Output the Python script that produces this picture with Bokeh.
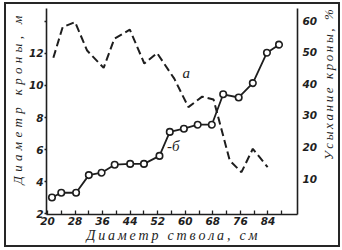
import math
from bokeh.plotting import figure
from bokeh.layouts import row
from bokeh.models import Range1d, LinearAxis, FixedTicker, Label
from bokeh.embed import file_html
from bokeh.resources import INLINE

# curve б: crown diameter, m (left axis)
diam_b = [21.3, 24.0, 28.3, 32.0, 35.7, 39.5, 44.0, 48.0, 52.5, 55.5, 59.6, 63.6, 67.7, 71.0, 75.5, 79.6, 83.7, 87.2]
crown_b = [3.0, 3.3, 3.3, 4.4, 4.55, 5.05, 5.1, 5.1, 5.6, 7.1, 7.3, 7.55, 7.55, 9.45, 9.25, 10.15, 12.05, 12.55]
# curve а: crown dieback, % (right axis)
diam_a = [21.7, 24.4, 28.0, 31.5, 36.3, 39.4, 43.9, 48.1, 51.8, 56.8, 60.9, 64.9, 68.2, 72.9, 76.3, 79.6, 83.9]
dry_a = [48.2, 57.9, 59.5, 50.5, 45.0, 54.2, 57.1, 46.4, 49.7, 41.6, 32.6, 35.9, 35.0, 15.7, 12.0, 19.4, 13.6]

x_ticks = [20, 28, 36, 44, 52, 60, 68, 76, 84]
x_minor = [24, 32, 40, 48, 56, 64, 72, 80, 88]
left_ticks = [2, 4, 6, 8, 10, 12, 14]
right_ticks = [10, 20, 30, 40, 50, 60]

x_title = "Диаметр ствола, см"
left_title = "Диаметр кроны, м"
right_title = "Усыхание кроны, %"

INK = "#1e1e1e"
TICK_FONT = "DejaVu Sans"
TITLE_FONT = "Liberation Serif"
SIDE_W = 18


def spaced(s, sep="\u2009"):
    return sep.join(list(s))


p = figure(width=332 - SIDE_W, height=241, output_backend="svg", toolbar_location=None,
           x_range=Range1d(19.71, 92.57), y_range=Range1d(1.94, 14.81),
           min_border_left=36, min_border_right=41 - SIDE_W, min_border_top=4, min_border_bottom=31)
p.outline_line_color = None
p.xgrid.visible = False
p.ygrid.visible = False
p.background_fill_color = "white"
p.border_fill_color = "white"

p.extra_y_ranges = {"right": Range1d(-1.39, 63.8)}


def style_axis(ax):
    ax.axis_line_color = INK
    ax.axis_line_width = 1.6
    ax.major_tick_line_color = INK
    ax.minor_tick_line_color = INK
    ax.major_tick_line_width = 1.3
    ax.minor_tick_line_width = 1.3
    ax.major_label_text_font = TICK_FONT
    ax.major_label_text_font_style = "bold italic"
    ax.major_label_text_font_size = "10.5px"
    ax.major_label_text_color = INK
    ax.axis_label_text_font = TITLE_FONT
    ax.axis_label_text_font_style = "italic"
    ax.axis_label_text_color = INK


# bottom axis
xa = p.xaxis[0]
style_axis(xa)
xa.ticker = FixedTicker(ticks=x_ticks, minor_ticks=x_minor)
xa.major_tick_in = 4
xa.major_tick_out = 0
xa.minor_tick_in = 4
xa.minor_tick_out = 0
xa.major_label_standoff = 2
xa.axis_label = spaced(x_title)
xa.axis_label_standoff = 0
xa.axis_label_text_font_size = "14px"

# left axis
ya = p.yaxis[0]
style_axis(ya)
ya.ticker = FixedTicker(ticks=left_ticks)
ya.major_label_overrides = {14: ""}
ya.major_tick_in = 0
ya.major_tick_out = 2
ya.minor_tick_line_color = None
ya.major_label_standoff = 1
ya.axis_label = "\u00a0" * 7 + spaced(left_title, "\u2004")
ya.axis_label_standoff = 1
ya.axis_label_text_font_size = "13px"

# right axis
ra = LinearAxis(y_range_name="right", ticker=FixedTicker(ticks=right_ticks))
style_axis(ra)
ra.major_tick_in = 0
ra.major_tick_out = 0
ra.minor_tick_line_color = None
ra.major_label_standoff = 5
p.add_layout(ra, "right")

# curves
p.line(diam_a, dry_a, y_range_name="right", line_color=INK, line_width=2, line_dash="8 4")
p.line(diam_b, crown_b, line_color=INK, line_width=1.8)
p.scatter(diam_b, crown_b, size=6.5, fill_color="white", line_color=INK, line_width=1.6)

# curve labels
p.add_layout(Label(x=60.3, y=10.8, text="а", text_font=TITLE_FONT, text_font_style="italic",
                   text_font_size="15px", text_color=INK, text_align="center", text_baseline="middle"))
p.add_layout(Label(x=56.5, y=6.25, text="-б", text_font=TITLE_FONT, text_font_style="italic",
                   text_font_size="15px", text_color=INK, text_align="center", text_baseline="middle"))

# narrow strip holding the right-hand axis title (reads bottom to top)
p2 = figure(width=SIDE_W, height=241, output_backend="svg", toolbar_location=None,
            x_range=Range1d(0, SIDE_W), y_range=Range1d(0, 241),
            x_axis_type=None, y_axis_type=None,
            min_border=0, min_border_left=0, min_border_right=0, min_border_top=0, min_border_bottom=0)
p2.outline_line_color = None
p2.background_fill_color = "white"
p2.border_fill_color = "white"
p2.add_layout(Label(x=SIDE_W / 2 - 1, y=152, text=spaced(right_title), angle=math.pi / 2,
                    text_font=TITLE_FONT, text_font_style="italic", text_font_size="13px",
                    text_color=INK, text_align="center", text_baseline="middle"))

layout = row(p, p2, spacing=0)
layout.styles = {"margin": "2px 0 0 4px", "border": "2px solid #262626", "background": "white"}

open("out.html", "w").write(file_html(layout, INLINE))
